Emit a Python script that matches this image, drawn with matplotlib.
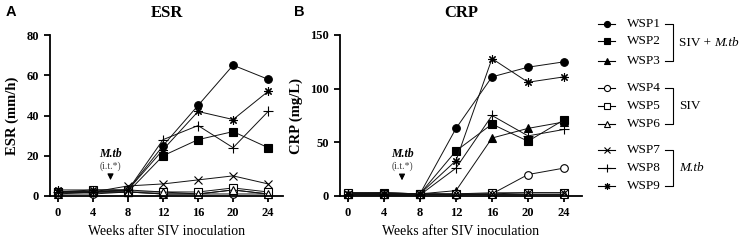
import matplotlib.pyplot as plt

plt.rcParams['font.family'] = ['Liberation Serif', 'DejaVu Serif']

weeks = [0, 4, 8, 12, 16, 20, 24]
names = ['WSP1', 'WSP2', 'WSP3', 'WSP4', 'WSP5', 'WSP6', 'WSP7', 'WSP8', 'WSP9']

# ESR (mm/h)
esr_wsp1 = [2, 2, 3, 25, 45, 65, 58]
esr_wsp2 = [2, 2, 2, 20, 28, 32, 24]
esr_wsp3 = [1, 2, 2, 1, 1, 3, 1]
esr_wsp4 = [1, 1, 2, 1, 1, 1, 1]
esr_wsp5 = [2, 3, 3, 2, 2, 4, 2]
esr_wsp6 = [2, 2, 2, 2, 1, 3, 1]
esr_wsp7 = [2, 2, 5, 6, 8, 10, 6]
esr_wsp8 = [2, 2, 3, 28, 35, 24, 42]
esr_wsp9 = [3, 3, 3, 23, 42, 38, 52]

# CRP (mg/L)
crp_wsp1 = [3, 3, 2, 63, 111, 120, 125]
crp_wsp2 = [2, 3, 2, 42, 67, 51, 71]
crp_wsp3 = [2, 2, 2, 5, 54, 63, 69]
crp_wsp4 = [3, 3, 2, 1, 2, 20, 26]
crp_wsp5 = [3, 2, 2, 2, 3, 3, 3]
crp_wsp6 = [2, 2, 2, 2, 2, 2, 2]
crp_wsp7 = [2, 2, 2, 2, 2, 3, 3]
crp_wsp8 = [1, 1, 1, 26, 75, 56, 62]
crp_wsp9 = [2, 2, 2, 33, 128, 106, 111]

esr = [esr_wsp1, esr_wsp2, esr_wsp3, esr_wsp4, esr_wsp5, esr_wsp6, esr_wsp7, esr_wsp8, esr_wsp9]
crp = [crp_wsp1, crp_wsp2, crp_wsp3, crp_wsp4, crp_wsp5, crp_wsp6, crp_wsp7, crp_wsp8, crp_wsp9]

# marker, facecolor, size
styles = [
    ('o', 'black', 5.5), ('s', 'black', 5.5), ('^', 'black', 5.5),
    ('o', 'white', 5.5), ('s', 'white', 5.5), ('^', 'white', 5.5),
    ('x', 'black', 6), ('+', 'black', 7), ((8, 2, 0), 'black', 6),
]

W, H = 743, 241
fig = plt.figure(figsize=(W / 100, H / 100), dpi=100)


def px_axes(x0, x1, ytop, ybot):
    return fig.add_axes([x0 / W, (H - ybot) / H, (x1 - x0) / W, (ybot - ytop) / H])


def draw_panel(ax, data, ymax, yticks, ylabel, title, letter, arrow_y):
    for vals, (m, fc, ms) in zip(data, styles):
        ax.plot(weeks, vals, color='#111111', lw=0.7, marker=m, markerfacecolor=fc,
                markeredgecolor='black', markeredgewidth=0.8, markersize=ms, clip_on=False)
    ax.set_ylim(0, ymax)
    ax.set_yticks(yticks)
    ax.set_xticks(weeks)
    for s in ['top', 'right']:
        ax.spines[s].set_visible(False)
    for s in ['left', 'bottom']:
        ax.spines[s].set_linewidth(1.3)
    ax.tick_params(width=1.3, length=4, labelsize=9, pad=4)
    for t in ax.get_xticklabels() + ax.get_yticklabels():
        t.set_fontweight('bold')
    ax.set_ylabel(ylabel, fontsize=10.5, fontweight='bold', labelpad=5)
    ax.set_xlabel('Weeks after SIV inoculation', fontsize=10, labelpad=4)
    ax.set_title(title, fontsize=12, fontweight='bold', pad=13)
    ax.text(-0.19, 1.14, letter, transform=ax.transAxes, fontsize=10.5,
            fontweight='bold', family=['Liberation Sans'], va='center')
    ax.annotate('', xy=(6, arrow_y), xytext=(6, arrow_y + ymax * 0.06),
                arrowprops=dict(arrowstyle='-|>', color='black', lw=0.8,
                                mutation_scale=9))
    ax.text(6, arrow_y + ymax * 0.18, 'M.tb', ha='center', va='center',
            fontsize=8.5, fontweight='bold', style='italic')
    ax.text(6, arrow_y + ymax * 0.105, '(i.t.*)', ha='center', va='center',
            fontsize=7, color='#444444')


axA = px_axes(50, 283, 35, 196)
axA.set_xlim(-0.91, 25.7)
draw_panel(axA, esr, 80, [0, 20, 40, 60, 80], 'ESR (mm/h)', 'ESR', 'A', 6.5)

axB = px_axes(340, 582, 35, 196)
axB.set_xlim(-0.89, 26)
draw_panel(axB, crp, 150, [0, 50, 100, 150], 'CRP (mg/L)', 'CRP', 'B', 12)

# legend with group brackets
leg = fig.add_axes([0, 0, 1, 1])
leg.set_xlim(0, W)
leg.set_ylim(H, 0)
leg.axis('off')
rows = [24, 41, 61, 88, 106, 124, 150, 168, 186]
for name, (m, fc, ms), y in zip(names, styles, rows):
    leg.plot([598, 615], [y, y], color='black', lw=0.8)
    leg.plot([606.5], [y], marker=m, markerfacecolor=fc, markeredgecolor='black',
             markeredgewidth=0.8, markersize=ms * 0.8, color='black')
    leg.text(627, y, name, fontsize=9.5, va='center', ha='left')

fig.canvas.draw()
renderer = fig.canvas.get_renderer()
groups = [('SIV +', 'M.tb'), ('SIV', ''), ('', 'M.tb')]
for g, (plain, ital) in enumerate(groups):
    y0, y1 = rows[3 * g], rows[3 * g + 2]
    leg.plot([665, 673, 673, 665], [y0, y0, y1, y1], color='black', lw=0.8)
    ym = (y0 + y1) / 2
    x = 679
    if plain:
        t = leg.text(x, ym, plain, fontsize=9.5, va='center', ha='left')
        bb = t.get_window_extent(renderer)
        x = x + bb.width + 3
    if ital:
        leg.text(x, ym, ital, fontsize=9.5, va='center', ha='left', style='italic')

fig.savefig('out.png', dpi=100)
